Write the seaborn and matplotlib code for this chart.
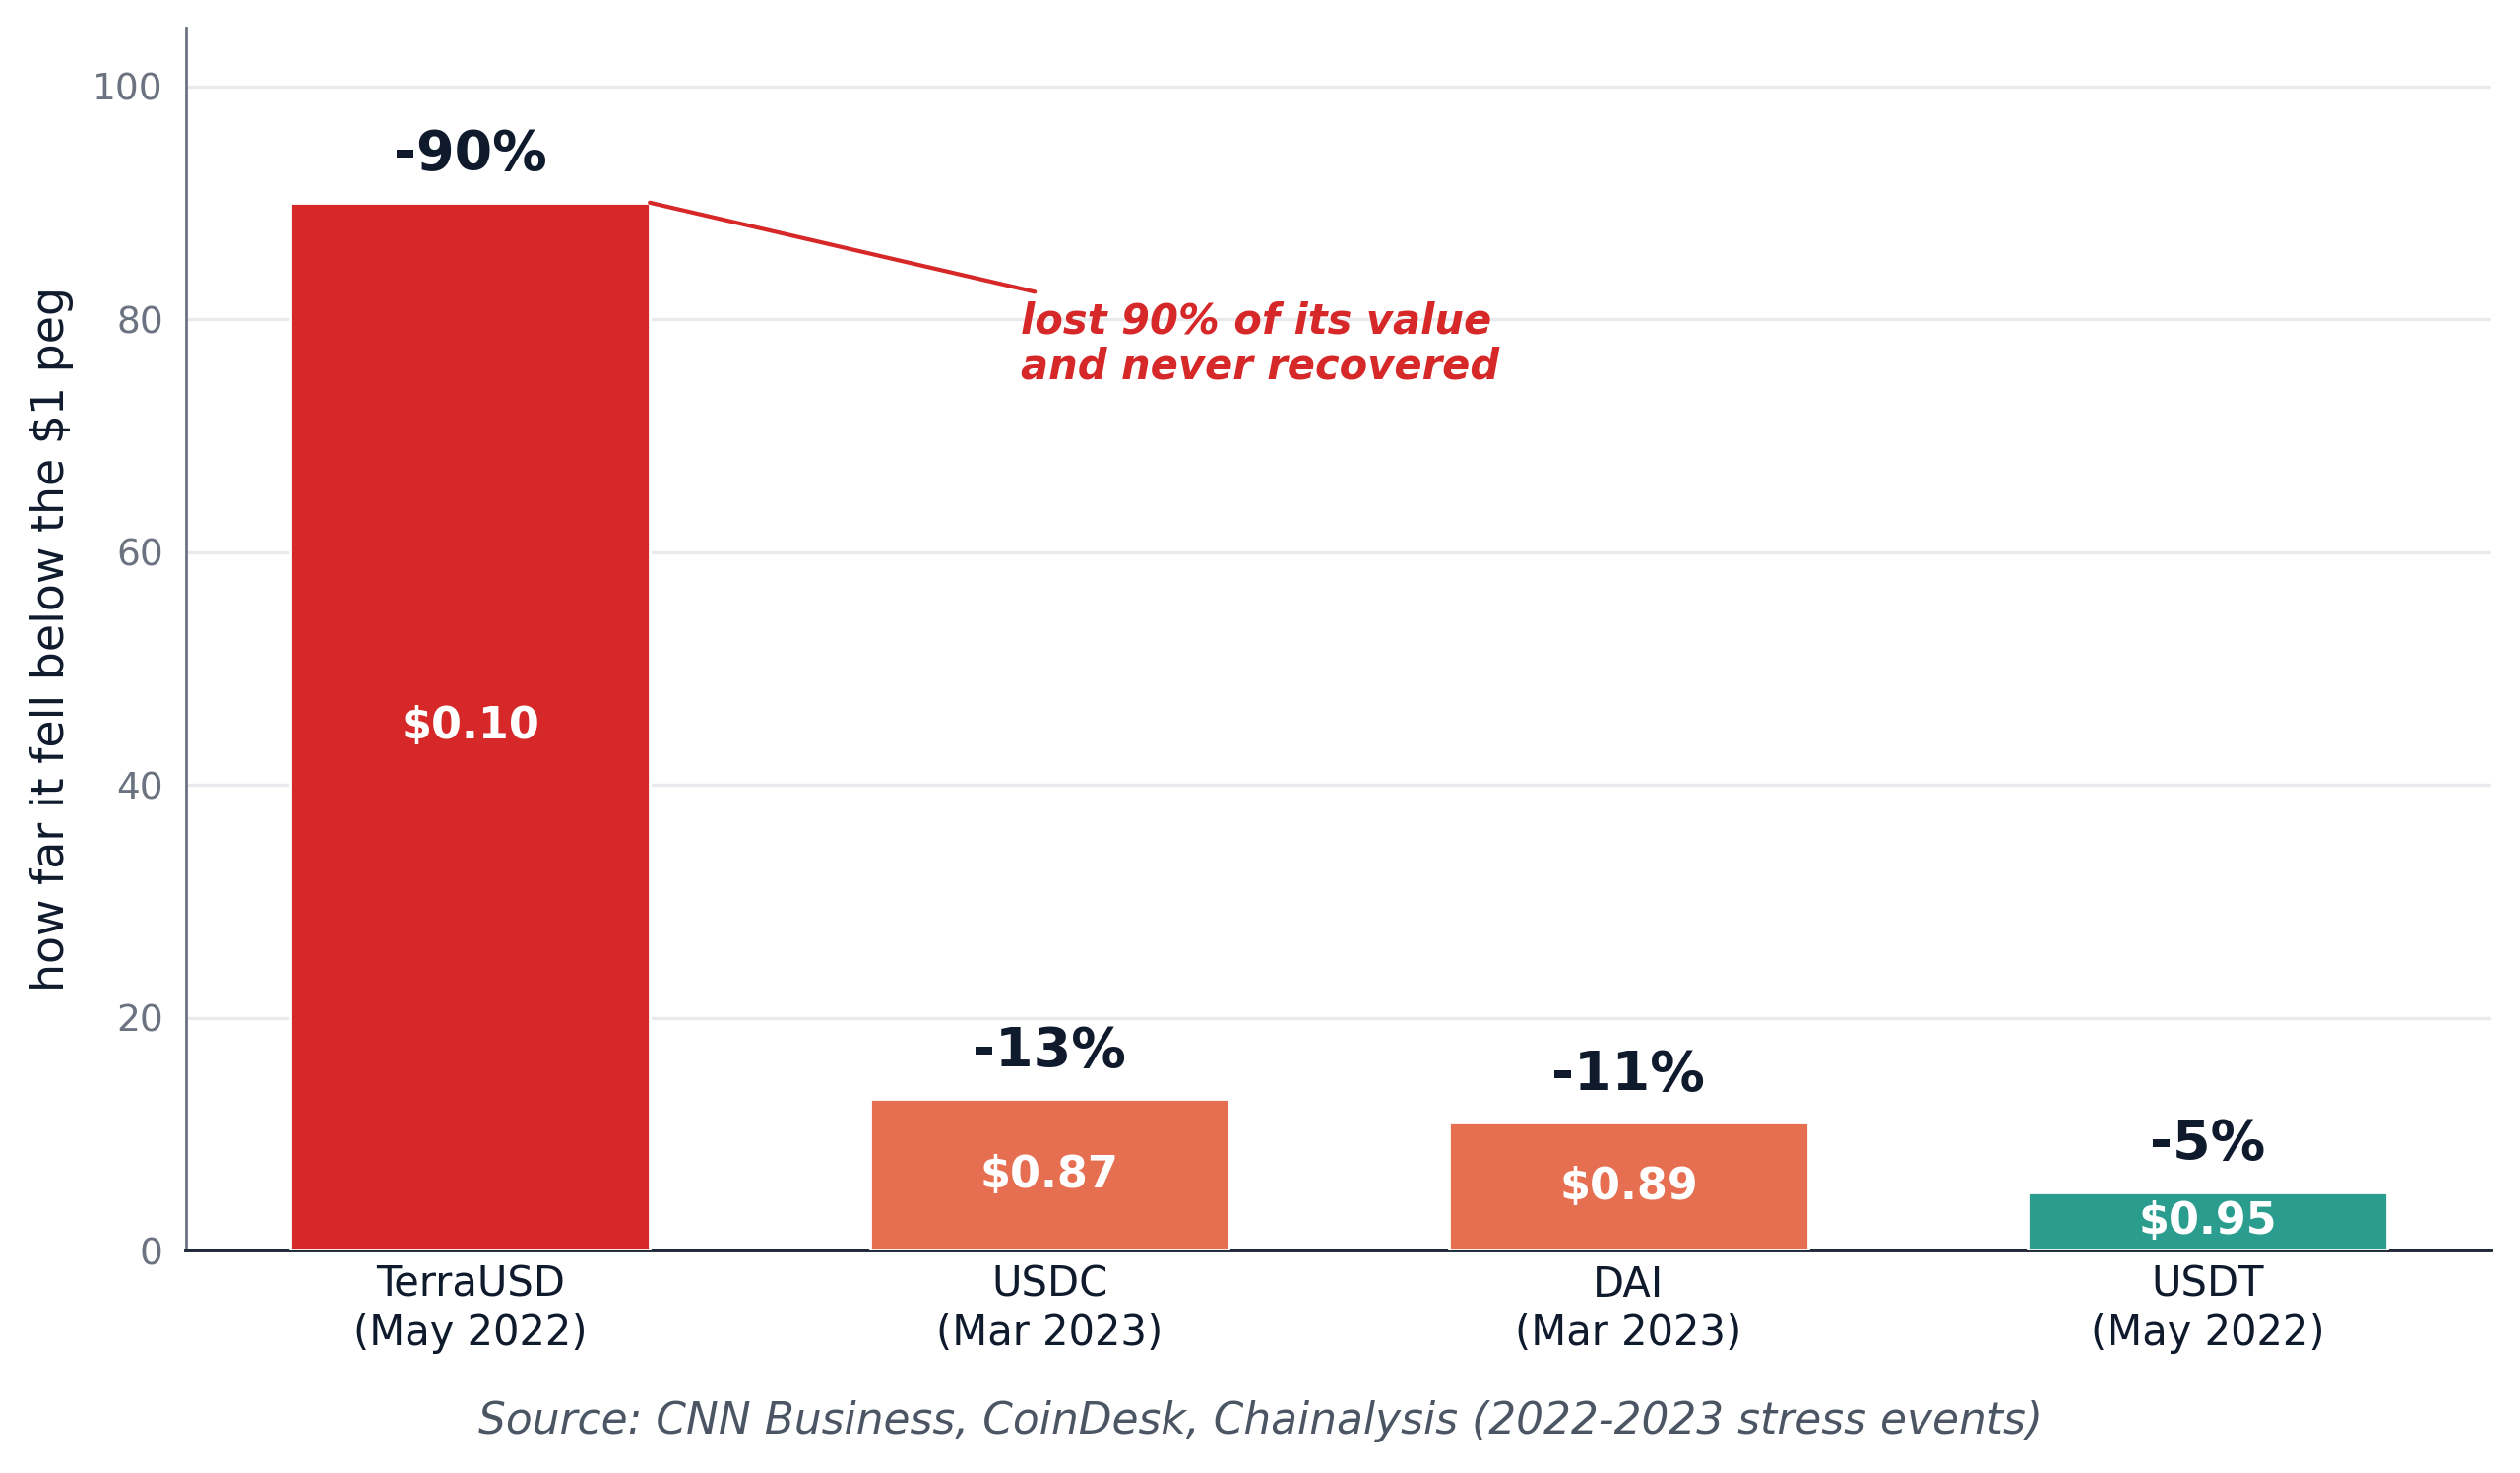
import pandas as pd
import matplotlib.pyplot as plt
import seaborn as sns

# Data
coins = ["TerraUSD\n(May 2022)", "USDC\n(Mar 2023)", "DAI\n(Mar 2023)", "USDT\n(May 2022)"]
drop_pct = [90, 13, 11, 5]
low_price = ["$0.10", "$0.87", "$0.89", "$0.95"]
bar_colors = ["#d62828", "#e76f51", "#e76f51", "#2a9d8f"]

df = pd.DataFrame({"coin": coins, "drop": drop_pct, "price": low_price})

sns.set_style("white")
plt.rcParams["font.family"] = ["DejaVu Sans"]

dark = "#0f1b2d"
red = "#d62828"

fig, ax = plt.subplots(figsize=(12.8, 7.48), dpi=200)
fig.subplots_adjust(left=0.074, right=0.9887, top=0.981, bottom=0.151)

sns.barplot(data=df, x="coin", y="drop", hue="coin", palette=bar_colors, saturation=1,
            width=0.62, legend=False, edgecolor="white", linewidth=1, ax=ax, zorder=3)

# labels on and above bars
for i, row in df.iterrows():
    ax.text(i, row["drop"] + 4.1, f"-{row['drop']}%", ha="center", va="center",
            fontsize=20, fontweight="bold", color=dark, zorder=4)
    ax.text(i, row["drop"] / 2, row["price"], ha="center", va="center",
            fontsize=16, fontweight="bold", color="white", zorder=4)

# callout for TerraUSD
ax.annotate("lost 90% of its value\nand never recovered",
            xy=(0.31, 90), xytext=(0.95, 81.6), ha="left", va="top",
            fontsize=15, fontweight="bold", fontstyle="italic", color=red,
            linespacing=1.12,
            arrowprops=dict(arrowstyle="-", color=red, lw=1.5, relpos=(0.03, 1.1),
                            shrinkA=0, shrinkB=0))

ax.set_ylim(0, 105)
ax.set_xlim(-0.49, 3.49)
ax.set_yticks([0, 20, 40, 60, 80, 100])
ax.set_xlabel("")
ax.set_ylabel("how far it fell below the $1 peg", fontsize=16.5, color=dark, labelpad=7)

ax.yaxis.grid(True, color="#e8eaed", lw=1.2, zorder=0)
ax.set_axisbelow(True)
sns.despine(ax=ax)
ax.spines["left"].set_color("#6b7280")
ax.spines["left"].set_linewidth(1.0)
ax.spines["bottom"].set_color("#1f2937")
ax.spines["bottom"].set_linewidth(1.4)

ax.tick_params(axis="y", labelsize=13.5, colors="#6b7280", length=5, width=1)
ax.tick_params(axis="x", labelsize=15, colors=dark, length=0, pad=5)

fig.text(0.5, 0.035, "Source: CNN Business, CoinDesk, Chainalysis (2022-2023 stress events)",
         ha="center", va="center", fontsize=15.8, fontstyle="italic", color="#4b5563")

plt.savefig("out.png", dpi=200)
plt.close()
